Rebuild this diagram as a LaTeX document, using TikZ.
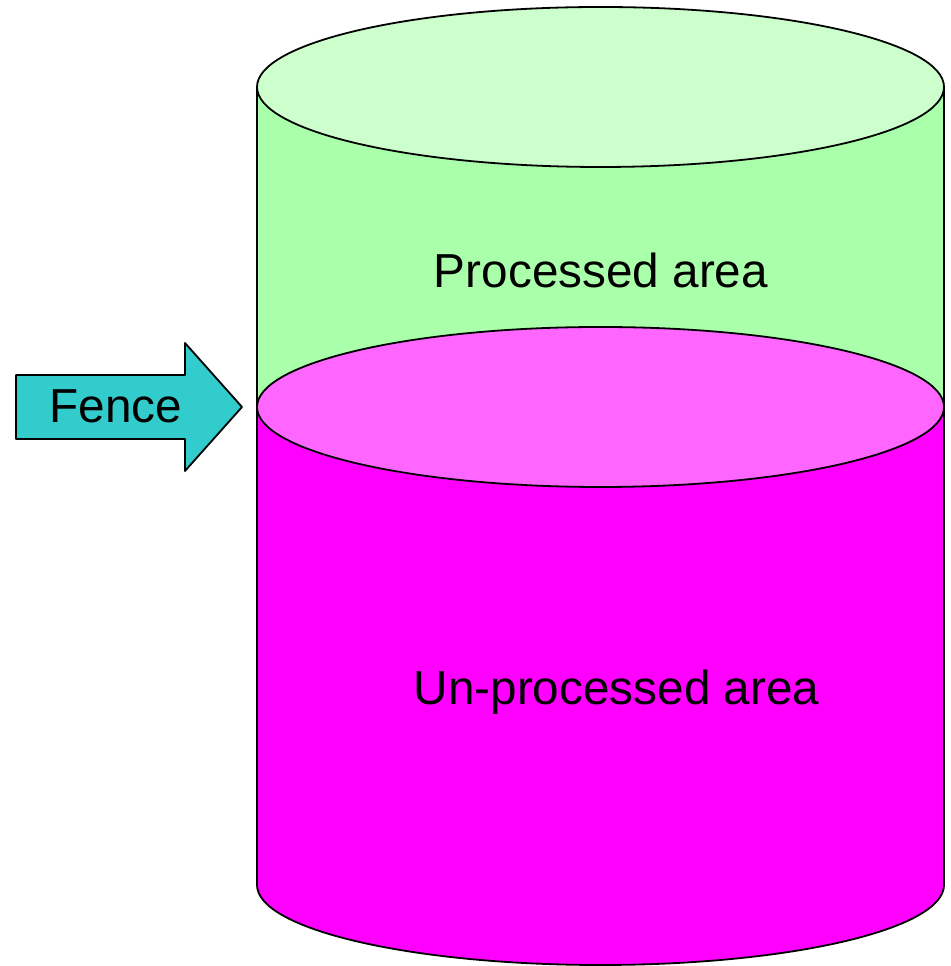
\documentclass[tikz,border=0pt]{standalone}
\usepackage{fontspec}
\setmainfont{Liberation Sans}
\definecolor{topgreen}{HTML}{CCFFCC}
\definecolor{sidegreen}{HTML}{AAFFAA}
\definecolor{midpink}{HTML}{FF66FF}
\definecolor{sidemag}{HTML}{FF00FF}
\definecolor{fencecol}{HTML}{33CCCC}
\begin{document}
\begin{tikzpicture}[x=1pt,y=1pt,
  outline/.style={draw=black,line width=1.8pt,line join=round},
  lbl/.style={inner sep=0pt,anchor=base,font=\fontsize{47.7}{56}\selectfont}]
\useasboundingbox (0,0) rectangle (950,966);
% green upper body
\fill[sidegreen] (257,879) rectangle (944,559);
\draw[outline] (257,879) -- (257,559);
\draw[outline] (944,879) -- (944,559);
% top ellipse
\draw[outline,fill=topgreen] (600.5,879) ellipse [x radius=343.5,y radius=80];
% magenta lower body
\draw[outline,fill=sidemag] (257,559) -- (257,81) arc[start angle=180,end angle=360,x radius=343.5,y radius=80] -- (944,559) -- cycle;
% middle ellipse
\draw[outline,fill=midpink] (600.5,559) ellipse [x radius=343.5,y radius=80];
% fence arrow
\draw[outline,fill=fencecol] (16,591) -- (185,591) -- (185,623) -- (242,559) -- (185,495) -- (185,527) -- (16,527) -- cycle;
\node[lbl] (fence) at (116,543) {Fence};
\node[lbl] (proc) at (601,678) {Processed area};
\node[lbl] (unproc) at (616.5,261) {Un-processed area};
\end{tikzpicture}
\end{document}
